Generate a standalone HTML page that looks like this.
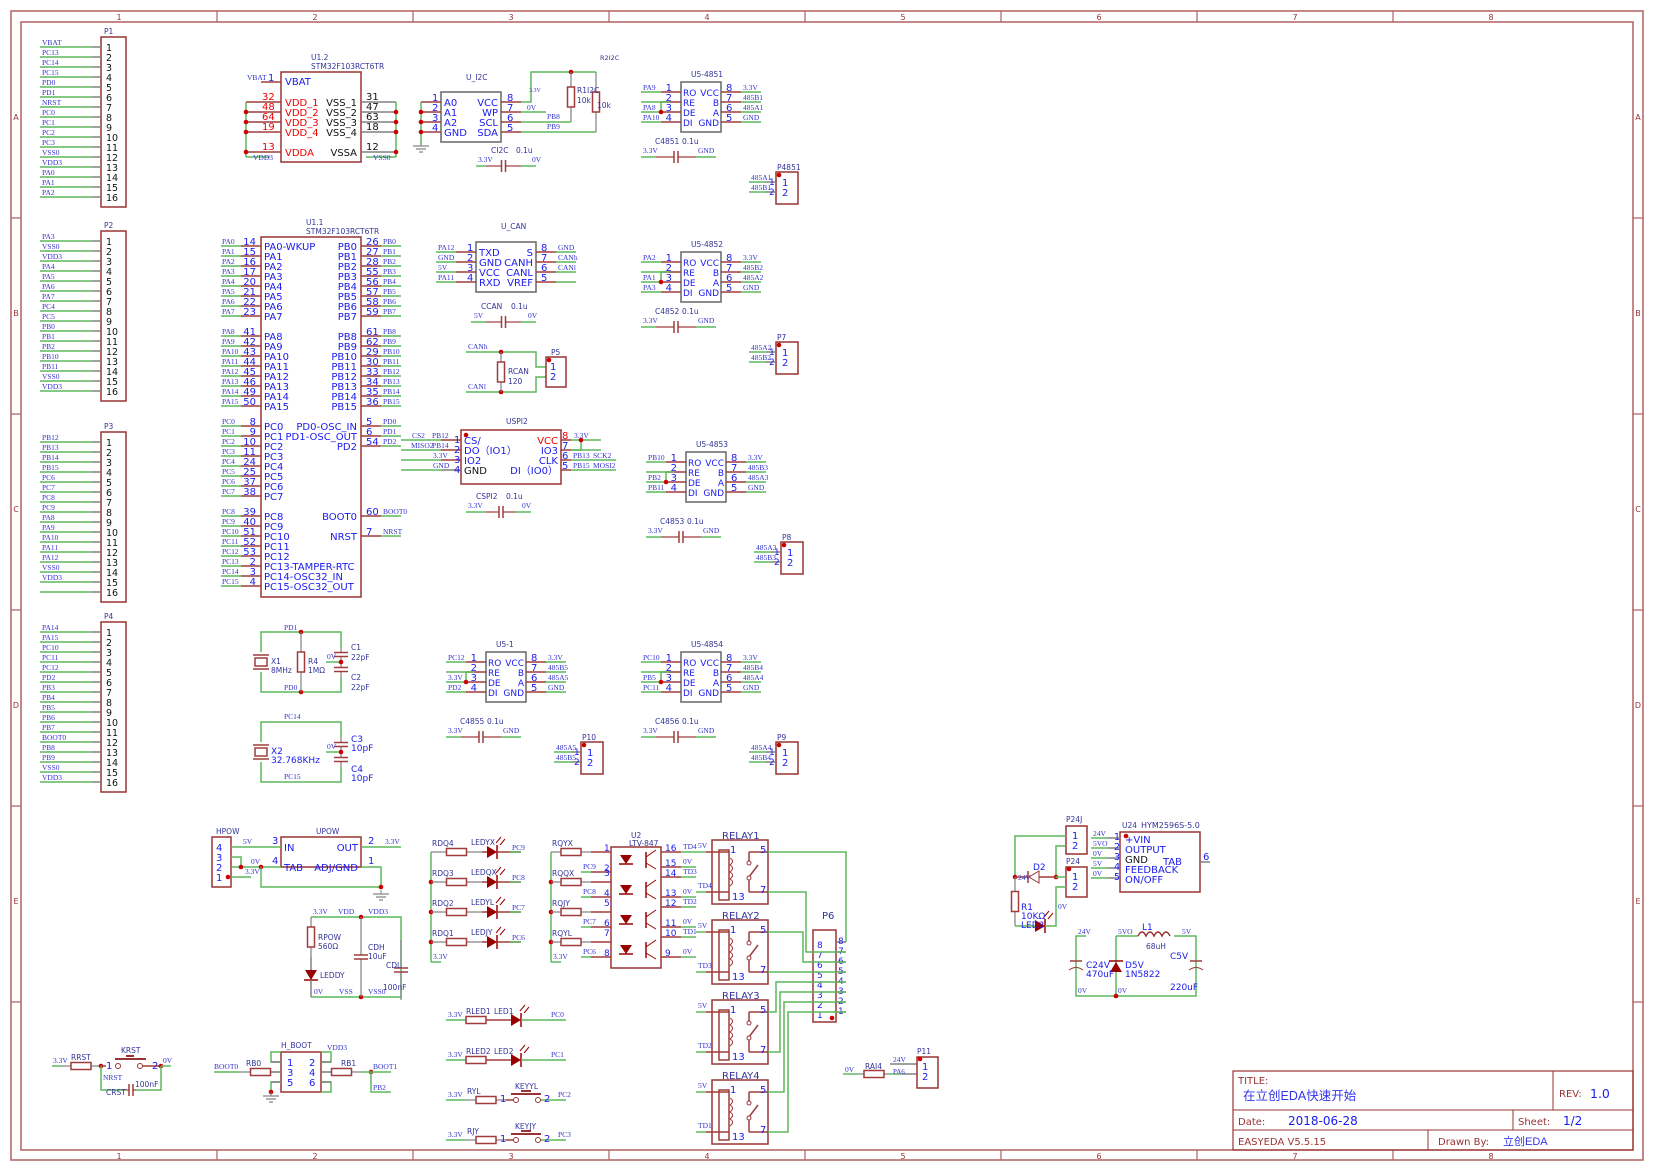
<!DOCTYPE html>
<html><head><meta charset="utf-8"><style>
html,body{margin:0;padding:0;background:#fff;}
svg{display:block;}
.s{font-family:"Liberation Serif",serif;font-size:7.5px;fill:#3333cc;}
.n{font-family:"DejaVu Sans","Liberation Sans",sans-serif;font-size:10px;fill:#1a1aee;}
.c{font-family:"DejaVu Sans","Liberation Sans",sans-serif;font-size:7.5px;fill:#333399;}
.f{font-family:"DejaVu Sans","Liberation Sans",sans-serif;font-size:9px;fill:#993333;}
</style></head><body>
<svg id="sv" width="1655" height="1172" viewBox="0 0 1655 1172" xmlns="http://www.w3.org/2000/svg">
<rect x="11" y="11" width="1632" height="1149" fill="none" stroke="#b06060" stroke-width="1.5"/>
<rect x="21" y="22" width="1612" height="1128" fill="none" stroke="#b06060" stroke-width="1.5"/>
<g id="g"></g>
<rect x="1233" y="1071" width="400" height="79" fill="none" stroke="#993333" stroke-width="1.2"/>
<line x1="1233" y1="1110" x2="1633" y2="1110" stroke="#993333"/>
<line x1="1233" y1="1130" x2="1633" y2="1130" stroke="#993333"/>
<line x1="1553" y1="1071" x2="1553" y2="1110" stroke="#993333"/>
<line x1="1513" y1="1110" x2="1513" y2="1130" stroke="#993333"/>
<line x1="1428" y1="1130" x2="1428" y2="1150" stroke="#993333"/>
<text x="1238" y="1084" class="f" style="font-size:10px">TITLE:</text>
<text x="1243" y="1100" style="font-family:'Liberation Sans','Noto Sans CJK SC',sans-serif;font-size:12.5px;fill:#3333ee">在立创EDA快速开始</text>
<text x="1559" y="1097" class="f" style="font-size:10px">REV:</text>
<text x="1590" y="1098" class="n" style="font-size:12.5px">1.0</text>
<text x="1238" y="1125" class="f" style="font-size:10px">Date:</text>
<text x="1288" y="1125" class="n" style="font-size:12px">2018-06-28</text>
<text x="1518" y="1125" class="f" style="font-size:10px">Sheet:</text>
<text x="1563" y="1125" class="n" style="font-size:12px">1/2</text>
<text x="1238" y="1145" class="f" style="font-size:10px">EASYEDA V5.5.15</text>
<text x="1438" y="1145" class="f" style="font-size:10px">Drawn By:</text>
<text x="1503" y="1145" style="font-family:'Liberation Sans','Noto Sans CJK SC',sans-serif;font-size:11px;fill:#3333ee">立创EDA</text>
</svg>
<script>
var G=document.getElementById('g'),h='';
var RED='#a03c3c',GR='#5cb85c',GY='#808080',BX='#993333';
function L(a,b,c,d,col,w){h+='<line x1="'+a+'" y1="'+b+'" x2="'+c+'" y2="'+d+'" stroke="'+(col||GR)+'" stroke-width="'+(w||1.5)+'"/>';}
function P(pts,col){h+='<polyline points="'+pts+'" fill="none" stroke="'+(col||GR)+'" stroke-width="1.5"/>';}
function T(x,y,s,cl,a,st){h+='<text x="'+x+'" y="'+y+'" class="'+cl+'"'+(a?' text-anchor="'+a+'"':'')+(st?' style="'+st+'"':'')+'>'+s+'</text>';}
function R(x,y,w,hh,col){h+='<rect x="'+x+'" y="'+y+'" width="'+w+'" height="'+hh+'" fill="none" stroke="'+(col||BX)+'" stroke-width="1.5"/>';}
function D(x,y){h+='<circle cx="'+x+'" cy="'+y+'" r="2.3" fill="#cc0000"/>';}
function res(x1,y,x2){var m=(x1+x2)/2;L(x1,y,m-10,y,GY,1.2);L(m+10,y,x2,y,GY,1.2);R(m-10,y-3.5,20,7,RED);}
function resV(x,y1,y2){var m=(y1+y2)/2;L(x,y1,x,m-10,GY,1.2);L(x,m+10,x,y2,GY,1.2);R(x-3.5,m-10,7,20,RED);}
function cap(x1,y,x2){var m=(x1+x2)/2;L(x1,y,m-2,y,RED,1.2);L(m+2,y,x2,y,RED,1.2);L(m-2,y-6,m-2,y+6,RED,1.5);L(m+2,y-6,m+2,y+6,RED,1.5);}
function capV(x,y1,y2){var m=(y1+y2)/2;L(x,y1,x,m-2,GY,1.2);L(x,m+2,x,y2,GY,1.2);L(x-7,m-2,x+7,m-2,RED,1.5);L(x-7,m+2,x+7,m+2,RED,1.5);}
function gnd(x,y){L(x,y,x,y+4,GY,1);L(x-8,y+4,x+8,y+4,GY,1.2);L(x-5,y+7,x+5,y+7,GY,1.2);L(x-2,y+10,x+2,y+10,GY,1.2);}
function led(x,y){h+='<polygon points="'+(x-5)+','+(y-6)+' '+(x-5)+','+(y+6)+' '+(x+5)+','+y+'" fill="#990000"/>';L(x+5,y-7,x+5,y+7,'#990000',1.5);L(x+4,y-9,x+9,y-15,'#990000',1);L(x+8,y-7,x+13,y-13,'#990000',1);}
var cx=[217,413,609,805,1001,1197,1393];
cx.forEach(function(x){L(x,11,x,22,'#b06060',1.2);L(x,1150,x,1160,'#b06060',1.2);});
for(var i=0;i<8;i++){var x=119+196*i;T(x,20,i+1,'f','middle','font-size:8px');T(x,1159,i+1,'f','middle','font-size:8px');}
[218,414,610,806,1002].forEach(function(y){L(11,y,21,y,'#b06060',1.2);L(1633,y,1643,y,'#b06060',1.2);});
'ABCDE'.split('').forEach(function(c,i){var y=120+196*i;T(16,y,c,'f','middle','font-size:8px');T(1638,y,c,'f','middle','font-size:8px');});
function hdr(name,y0,labs){R(101,y0,25,170);T(104,y0-3,name,'c');for(var i=0;i<16;i++){var y=y0+10+10*i;L(40,y,92,y,GR,1.5);L(92,y,101,y,GY,1.5);if(labs[i])T(42,y-2,labs[i],'s');T(106,y+4,i+1,'n','','font-size:9.5px;fill:#111');}}
hdr('P1',37,['VBAT','PC13','PC14','PC15','PD0','PD1','NRST','PC0','PC1','PC2','PC3','VSS0','VDD3','PA0','PA1','PA2']);
hdr('P2',231,['PA3','VSS0','VDD3','PA4','PA5','PA6','PA7','PC4','PC5','PB0','PB1','PB2','PB10','PB11','VSS0','VDD3']);
hdr('P3',432,['PB12','PB13','PB14','PB15','PC6','PC7','PC8','PC9','PA8','PA9','PA10','PA11','PA12','VSS0','VDD3','']);
hdr('P4',622,['PA14','PA15','PC10','PC11','PC12','PD2','PB3','PB4','PB5','PB6','PB7','BOOT0','PB8','PB9','VSS0','VDD3']);
R(281,72,80,90);T(311,60,'U1.2','c');T(311,69,'STM32F103RCT6TR','c');
L(261,82,281,82,RED);T(247,80,'VBAT','s');T(268,81,'1','n');T(285,85,'VBAT','n');
[[32,102],[48,112],[64,122],[19,132],[13,152]].forEach(function(p,i){L(246,p[1],281,p[1],RED);T(262,p[1]-2,p[0],'n','','fill:#e00');T(285,p[1]+4,['VDD_1','VDD_2','VDD_3','VDD_4','VDDA'][i],'n','','fill:#e00');});
L(246,102,246,157);[112,122,132,152].forEach(function(y){D(246,y)});L(246,157,270,157);T(253,160,'VDD3','s');
[[31,102],[47,112],[63,122],[18,132],[12,152]].forEach(function(p,i){L(361,p[1],396,p[1],GY);T(366,p[1]-2,p[0],'n','','fill:#111');T(357,p[1]+4,['VSS_1','VSS_2','VSS_3','VSS_4','VSSA'][i],'n','end','fill:#111');});
L(396,102,396,157);[112,122,132,152].forEach(function(y){D(396,y)});L(366,157,396,157);T(373,160,'VSS0','s');
R(261,237,100,360);T(306,225,'U1.1','c');T(306,234,'STM32F103RCT6TR','c');
var ln=[14,15,16,17,20,21,22,23,41,42,43,44,45,46,49,50,8,9,10,11,24,25,37,38,39,40,51,52,53,2,3,4];
var lnames=['PA0-WKUP','PA1','PA2','PA3','PA4','PA5','PA6','PA7','PA8','PA9','PA10','PA11','PA12','PA13','PA14','PA15','PC0','PC1','PC2','PC3','PC4','PC5','PC6','PC7','PC8','PC9','PC10','PC11','PC12','PC13-TAMPER-RTC','PC14-OSC32_IN','PC15-OSC32_OUT'];
var llab=['PA0','PA1','PA2','PA3','PA4','PA5','PA6','PA7','PA8','PA9','PA10','PA11','PA12','PA13','PA14','PA15','PC0','PC1','PC2','PC3','PC4','PC5','PC6','PC7','PC8','PC9','PC10','PC11','PC12','PC13','PC14','PC15'];
for(var i=0;i<32;i++){var y=246+10*i+10*Math.floor(i/8);L(221,y,241,y,GR);L(241,y,261,y,RED);T(222,y-2,llab[i],'s');T(256,y-1,ln[i],'n','end');T(264,y+4,lnames[i],'n');}
var rdat=[['PB0',26,246],['PB1',27,256],['PB2',28,266],['PB3',55,276],['PB4',56,286],['PB5',57,296],['PB6',58,306],['PB7',59,316],['PB8',61,336],['PB9',62,346],['PB10',29,356],['PB11',30,366],['PB12',33,376],['PB13',34,386],['PB14',35,396],['PB15',36,406],['PD0',5,426,'PD0-OSC_IN'],['PD1',6,436,'PD1-OSC_OUT'],['PD2',54,446],['BOOT0',60,516],['NRST',7,536]];
rdat.forEach(function(r){var y=r[2];L(361,y,381,y,RED);L(381,y,401,y,GR);T(366,y-1,r[1],'n');T(383,y-2,r[0],'s');T(357,y+4,r[3]||r[0],'n','end');});
R(441,92,60,50,'#666');T(466,80,'U_I2C','c');
['A0','A1','A2','GND'].forEach(function(s,i){var y=102+10*i;L(421,y,441,y,RED);T(432,y-1,i+1,'n');T(444,y+4,s,'n');});
L(421,102,421,145);[112,122,132].forEach(function(y){D(421,y)});gnd(421,142);
['VCC','WP','SCL','SDA'].forEach(function(s,i){var y=102+10*i;L(501,y,521,y,RED);T(507,y-1,8-i,'n');T(498,y+4,s,'n','end');});
P('521,102 531,102 531,72 596,72');D(571,72);resV(571,72,122);resV(596,72,132);
P('521,112 546,112');P('521,122 571,122');P('521,132 596,132');
T(547,119,'PB8','s');T(547,129,'PB9','s');T(527,110,'0V','s');T(529,92,'3.3V','s','','font-size:6px');
T(577,93,'R1I2C','c');T(577,103,'10k','c');T(597,108,'10k','c');T(600,60,'R2I2C','c','','font-size:6.5px');
L(476,166,486,166);cap(486,166,521);L(521,166,536,166);T(478,162,'3.3V','s');T(532,162,'0V','s');T(491,153,'CI2C','c');T(516,153,'0.1u','c');
R(476,242,60,50,'#666');T(501,229,'U_CAN','c');
['TXD','GND','VCC','RXD'].forEach(function(s,i){var y=252+10*i;L(436,y,456,y,GR);L(456,y,476,y,RED);T(438,y-2,['PA12','GND','5V','PA11'][i],'s');T(467,y-1,i+1,'n');T(479,y+4,s,'n');});
['S','CANH','CANL','VREF'].forEach(function(s,i){var y=252+10*i;L(536,y,556,y,RED);L(556,y,576,y,GR);T(541,y-1,8-i,'n');T(533,y+4,s,'n','end');T(558,y-2,['GND','CANh','CANl',''][i],'s');});
L(471,322,486,322);cap(486,322,521);L(521,322,536,322);T(474,318,'5V','s');T(528,318,'0V','s');T(481,309,'CCAN','c');T(511,309,'0.1u','c');
P('466,352 536,352 536,367 546,367');P('466,392 536,392 536,377 546,377');D(501,352);D(501,392);resV(501,352,392);
T(468,349,'CANh','s');T(468,389,'CANl','s');T(508,374,'RCAN','c');T(508,384,'120','c');
R(546,357,20,30);D(549,360);T(551,355,'P5','c');T(550,370,'1','n');T(550,380,'2','n');
R(461,430,100,54);T(506,424,'USPI2','c');D(466,435);
['CS/','DO（IO1）','IO2','GND'].forEach(function(s,i){var y=440+10*i;L(401,y,441,y,GR);L(441,y,461,y,i==3?GY:RED);T(464,y+4,s,'n','','fill:'+(i==3?'#111':'#1a1aee'));T(454,y+3,i+1,'n');});
T(412,438,'CS2','s');T(432,438,'PB12','s');T(411,448,'MISO2','s');T(432,448,'PB14','s');T(433,458,'3.3V','s');T(433,468,'GND','s');
['VCC','IO3','CLK','DI（IO0）'].forEach(function(s,i){var y=440+10*i;L(561,y,571,y,RED);L(571,y,601+(i>1?15:0),y,GR);T(558,y+4,s,'n','end',i==0?'fill:#e00':'');T(562,y-1,8-i,'n','',i==0?'fill:#e00':'');});
P('581,440 581,450 571,450');D(581,440);T(574,438,'3.3V','s');T(573,458,'PB13','s');T(593,458,'SCK2','s');T(573,468,'PB15','s');T(593,468,'MOSI2','s');
L(466,512,486,512);cap(486,512,516);L(516,512,531,512);T(468,508,'3.3V','s');T(522,508,'0V','s');T(476,499,'CSPI2','c');T(506,499,'0.1u','c');
function rs(x,y,name,ll,rl){R(x,y,40,50,'#666');T(x+10,y-5,name,'c');var ln2=['RO','RE','DE','DI'],rn=['VCC','B','A','GND'];
for(var i=0;i<4;i++){var yy=y+10+10*i;L(x-40,yy,x-20,yy,GR);L(x-20,yy,x,yy,RED);L(x+40,yy,x+60,yy,RED);L(x+60,yy,x+80,yy,GR);T(x-9,yy-1,i+1,'n','end');T(x+2,yy+4,ln2[i],'n','','font-size:9px');T(x+38,yy+4,rn[i],'n','end','font-size:9px');T(x+45,yy-1,8-i,'n');if(ll[i])T(x-38,yy-2,ll[i],'s');T(x+62,yy-2,rl[i],'s');}
P((x-20)+','+(y+30)+' '+(x-20)+','+(y+20)+' '+(x-12)+','+(y+20));D(x-20,y+30);}
rs(681,82,'U5-4851',['PA9','','PA8','PA10'],['3.3V','485B1','485A1','GND']);
rs(681,252,'U5-4852',['PA2','','PA1','PA3'],['3.3V','485B2','485A2','GND']);
rs(686,452,'U5-4853',['PB10','','PB2','PB11'],['3.3V','485B3','485A3','GND']);
rs(486,652,'U5-1',['PC12','','3.3V','PD2'],['3.3V','485B5','485A5','GND']);
rs(681,652,'U5-4854',['PC10','','PB5','PC11'],['3.3V','485B4','485A4','GND']);
function c4(x,y,name,a,b){L(x,y,x+15,y);cap(x+15,y,x+55);L(x+55,y,x+75,y);T(x+2,y-4,a,'s');T(x+57,y-4,b,'s');T(x+14,y-13,name,'c');T(x+41,y-13,'0.1u','c');}
c4(641,157,'C4851','3.3V','GND');c4(641,327,'C4852','3.3V','GND');c4(646,537,'C4853','3.3V','GND');c4(446,737,'C4855','3.3V','GND');c4(641,737,'C4856','3.3V','GND');
function p2(x,y,name,a,b){R(x,y,22,32);D(x+3,y+3);T(x+1,y-2,name,'c');T(x+6,y+14,'1','n');T(x+6,y+24,'2','n');L(x-27,y+10,x-10,y+10);L(x-10,y+10,x,y+10,GY);L(x-27,y+20,x-10,y+20);L(x-10,y+20,x,y+20,GY);T(x-25,y+8,a,'s');T(x-25,y+18,b,'s');T(x-7,y+13,'1','n','','font-size:9px');T(x-7,y+23,'2','n','','font-size:9px');}
p2(776,172,'P4851','485A1','485B1');p2(776,342,'P7','485A2','485B2');p2(781,542,'P8','485A3','485B3');p2(581,742,'P10','485A5','485B5');p2(776,742,'P9','485A4','485B4');
P('261,652 261,632 341,632 341,647');P('261,672 261,692 341,692 341,677');D(301,632);D(301,692);resV(301,632,692);
R(255,658,12,8,RED);L(253,655,269,655,RED);L(253,669,269,669,RED);
capV(341,647,662);capV(341,662,677);P('326,662 341,662');D(341,662);
T(284,630,'PD1','s');T(284,690,'PD0','s');T(271,664,'X1','c');T(271,673,'8MHz','c');T(308,664,'R4','c');T(308,673,'1MΩ','c');T(327,659,'0V','s');T(351,650,'C1','c');T(351,660,'22pF','c');T(351,680,'C2','c');T(351,690,'22pF','c');
P('261,742 261,722 341,722 341,737');P('261,762 261,782 341,782 341,767');capV(341,737,752);capV(341,752,767);P('326,752 341,752');D(341,752);
R(255,748,12,8,RED);L(253,745,269,745,RED);L(253,759,269,759,RED);
T(284,719,'PC14','s');T(284,779,'PC15','s');T(271,754,'X2','n','','font-size:9px');T(271,763,'32.768KHz','n','','font-size:9px');T(327,749,'0V','s');T(351,742,'C3','n','','font-size:9px');T(351,751,'10pF','n','','font-size:9px');T(351,772,'C4','n','','font-size:9px');T(351,781,'10pF','n','','font-size:9px');
R(212,837,19,50);T(216,834,'HPOW','c');D(228,877);['4','3','2','1'].forEach(function(s,i){T(216,851+10*i,s,'n');});
R(281,837,80,30);T(316,834,'UPOW','c');
P('231,847 281,847');T(243,844,'5V','s');T(272,844,'3','n');T(284,851,'IN','n');
P('231,857 241,857 241,867 281,867');P('231,867 241,867');P('231,877 251,877');D(241,867);D(261,867);P('261,867 261,887 381,887');T(251,864,'0V','s');T(245,874,'3.3V','s');T(272,864,'4','n');T(284,871,'TAB','n');
P('361,847 401,847');T(368,844,'2','n');T(385,844,'3.3V','s');T(358,851,'OUT','n','end');T(358,871,'ADJ/GND','n','end');
P('361,867 381,867 381,887');D(381,887);gnd(381,890);T(368,864,'1','n');
function led2v(x,y){h+='<polygon points="'+(x-6)+','+(y-5)+' '+(x+6)+','+(y-5)+' '+x+','+(y+5)+'" fill="#990000"/>';L(x-7,y+5,x+7,y+5,'#990000',1.5);}
P('311,917 401,917 401,997 311,997');resV(311,917,957);led2v(311,975);
L(311,957,311,970,GY);L(311,980,311,997,GY);D(361,917);D(361,997);capV(361,917,997);capV(401,940,1000);
T(313,914,'3.3V','s');T(338,914,'VDD','s');T(368,914,'VDD3','s');T(318,940,'RPOW','c');T(318,949,'560Ω','c');T(368,950,'CDH','c');T(368,959,'10uF','c');T(386,968,'CDL','c');T(383,990,'100nF','c');T(320,978,'LEDDY','c');T(314,994,'0V','s');T(339,994,'VSS','s');T(368,994,'VSS0','s');
L(431,852,431,962);L(431,962,441,962);T(433,959,'3.3V','s');
['RDQ4','RDQ3','RDQ2','RDQ1'].forEach(function(s,i){var y=852+30*i;if(i)D(431,y);res(431,y,482);L(482,y,487,y,RED);led(492,y);L(497,y,521,y,RED);L(510,y,521,y,GR);T(432,y-6,s,'c');T(471,y-7,['LEDYX','LEDQX','LEDYL','LEDJY'][i],'c');T(512,y-2,['PC9','PC8','PC7','PC6'][i],'s');});
L(551,852,551,962);L(551,962,561,962);T(553,959,'3.3V','s');R(611,847,50,121);T(631,838,'U2','c');T(629,846,'LTV-847','c');
var lp=[[1,852],[2,872],[3,877],[4,897],[5,907],[6,927],[7,937],[8,957]];
['RQYX','RQQX','RQJY','RQYL'].forEach(function(s,i){var y=852+30*i;if(i)D(551,y);res(551,y,591);L(591,y,611,y,RED);T(552,y-6,s,'c');});
[[2,872,'PC9'],[4,897,'PC8'],[6,927,'PC7'],[8,957,'PC6']].forEach(function(p){L(581,p[1],591,p[1]);L(591,p[1],611,p[1],RED);T(583,p[1]-3,p[2],'s');});
lp.forEach(function(p){T(604,p[1]-1,p[0],'n','','font-size:9px');});
var rp=[[16,852,'TD4'],[15,867,'0V'],[14,877,'TD3'],[13,897,'0V'],[12,907,'TD2'],[11,927,'0V'],[10,937,'TD1'],[9,957,'0V']];
rp.forEach(function(p){L(661,p[1],681,p[1],RED);L(681,p[1],696,p[1]);T(665,p[1]-1,p[0],'n','','font-size:9px');T(683,p[1]-3,p[2],'s');});
for(var i=0;i<4;i++){var y=860+30*i;h+='<polygon points="620,'+(y-5)+' 632,'+(y-5)+' 626,'+(y+4)+'" fill="#990000"/>';L(619,y+4,633,y+4,'#990000');L(646,y-8,646,y+8,'#990000');L(646,y-3,656,y-10,'#990000',1);L(646,y+3,656,y+9,'#990000',1);}
function relay(y,n,tdl,tdlb){R(712,y,56,64);T(722,y-1,'RELAY'+n,'n','','fill:#333399');R(719,y+10,10,50,RED);L(706,y+12,729,y+12,RED);L(706,y+52,729,y+52,RED);
h+='<path d="M730,'+(y+18)+' q5,3 0,7 q5,3 0,7 q5,3 0,7 q5,3 0,7" fill="none" stroke="#993333"/>';
L(749,y+12,768,y+12,RED);L(749,y+12,749,y+22,RED);L(749,y+38,749,y+52,RED);L(749,y+52,768,y+52,RED);L(749,y+37,758,y+25,RED);h+='<circle cx="749" cy="'+(y+23)+'" r="2" fill="#fff" stroke="#993333"/><circle cx="749" cy="'+(y+38)+'" r="2" fill="#fff" stroke="#993333"/>';
T(730,y+13,'1','n');T(760,y+13,'5','n');T(760,y+53,'7','n');T(732,y+60,'13','n');L(696,y+12,706,y+12);L(696,y+52,706,y+52);T(698,y+8,tdl,'s');T(698,y+48,tdlb,'s');}
relay(840,1,'5V','TD4');relay(920,2,'5V','TD3');relay(1000,3,'5V','TD2');relay(1080,4,'5V','TD1');
R(813,930,23,92);T(822,919,'P6','n','','fill:#333399');D(832,1018);
for(var i=0;i<8;i++){var y=942+10*i;L(836,y,846,y,GY);T(838,y+2,8-i,'n','','font-size:9px');T(817,y+6,8-i,'n','','font-size:9px');}
P('768,852 846,852 846,942');P('768,892 806,892 806,952 846,952');P('768,932 803,932 803,962 846,962');P('768,972 846,972');
P('768,1012 776,1012 776,982 846,982');P('768,1052 780,1052 780,992 846,992');P('768,1092 784,1092 784,1002 846,1002');P('768,1132 788,1132 788,1012 846,1012');
[['RLED1','LED1','PC0',1020],['RLED2','LED2','PC1',1060]].forEach(function(a){var y=a[3];L(446,y,466,y);res(466,y,486);L(486,y,511,y,RED);led(516,y);L(521,y,566,y);T(448,y-3,'3.3V','s');T(466,y-6,a[0],'c');T(494,y-6,a[1],'c');T(551,y-3,a[2],'s');});
[['RYL','KEYYL','PC2',1100],['RJY','KEYJY','PC3',1140]].forEach(function(a){var y=a[3];L(446,y,466,y);res(466,y,506);L(506,y,514,y,RED);h+='<circle cx="516" cy="'+y+'" r="2.5" fill="#fff" stroke="#993333"/><circle cx="538" cy="'+y+'" r="2.5" fill="#fff" stroke="#993333"/>';L(511,y-6,541,y-6,'#993333',2);L(521,y-9,531,y-9,'#993333',2);L(541,y,566,y);T(448,y-3,'3.3V','s');T(467,y-6,a[0],'c');T(515,y-11,a[1],'c');T(500,y+2,'1','n');T(544,y+2,'2','n');T(558,y-3,a[2],'s');});
R(1066,826,21,28);T(1066,822,'P24J','c');T(1072,839,'1','n');T(1072,849,'2','n');
R(1066,867,21,30);D(1069,869);T(1066,864,'P24','c');T(1072,880,'1','n');T(1072,890,'2','n');
P('1066,836 1015,836 1015,877');P('1066,846 1056,846 1056,877');D(1015,877);D(1056,877);P('1056,877 1066,877');
L(1015,877,1027,877,RED);h+='<polygon points="1039,871 1039,883 1029,877" fill="none" stroke="#993333"/>';L(1028,871,1028,883,RED);L(1039,877,1056,877,RED);
resV(1015,877,926);P('1015,926 1037,926');led(1040,926);P('1045,926 1056,926 1056,887 1066,887');
T(1018,880,'24V','s');T(1033,870,'D2','n','','font-size:9px');T(1021,910,'R1','n','','font-size:9px');T(1021,919,'10KΩ','n','','font-size:9px');T(1021,928,'LED3','n','','font-size:9px');T(1058,909,'0V','s');
R(1120,832,80,60);D(1126,836);T(1122,828,'U24','c');T(1141,828,'HYM2596S-5.0','c','','font-size:8px');
['+VIN','OUTPUT','GND','FEEDBACK','ON/OFF'].forEach(function(s,i){var y=838+10*i;L(1091,y,1108,y);L(1108,y,1120,y,GY);T(1093,y-2,['24V','5VO','0V','5V','0V'][i],'s');T(1114,y+2,i+1,'n','','font-size:9.5px');T(1125,y+5,s,'n','',i==2?'fill:#111':'');});
T(1182,865,'TAB','n','end');L(1200,862,1210,862,GY);T(1203,860,'6','n');
P('1086,936 1076,936 1076,996 1196,996 1196,936 1174,936');P('1116,936 1116,996');P('1116,936 1138,936');D(1116,996);
h+='<path d="M1138,936 q4,-8 8,0 q4,-8 8,0 q4,-8 8,0 q4,-8 8,0" fill="none" stroke="#993333" stroke-width="1.5"/>';
h+='<polygon points="1110,972 1122,972 1116,962" fill="#990000"/>';L(1109,961,1123,961,'#990000',1.5);
L(1070,961,1082,961,RED);h+='<path d="M1069,970 q7,-5 14,0" fill="none" stroke="#993333"/><path d="M1189,970 q7,-5 14,0" fill="none" stroke="#993333"/>';L(1190,961,1202,961,RED);
T(1078,934,'24V','s');T(1118,934,'5VO','s');T(1182,934,'5V','s');T(1078,993,'0V','s');T(1118,993,'0V','s');T(1142,930,'L1','n','','font-size:9px');T(1146,949,'68uH','c');T(1086,968,'C24V','n','','font-size:9px');T(1086,977,'470uF','n','','font-size:9px');T(1125,968,'D5V','n','','font-size:9px');T(1125,977,'1N5822','n','','font-size:9px');T(1170,959,'C5V','n','','font-size:9px');T(1170,990,'220uF','n','','font-size:9px');
L(843,1074,858,1074);res(858,1074,890);L(890,1074,902,1074);L(902,1074,917,1074,GY);L(890,1064,917,1064,GY);R(917,1057,21,31);D(920,1059);T(917,1054,'P11','c');T(922,1070,'1','n');T(922,1080,'2','n');T(845,1072,'0V','s');T(865,1069,'RAI4','c');T(893,1062,'24V','s');T(893,1074,'PA6','s','','font-size:7px');
L(52,1066,62,1066);res(62,1066,100);D(101,1066);L(101,1066,106,1066,RED);h+='<circle cx="118" cy="1066" r="2.5" fill="#fff" stroke="#993333"/><circle cx="140" cy="1066" r="2.5" fill="#fff" stroke="#993333"/>';L(115,1059,146,1059,'#993333',2);L(126,1056,134,1056,'#993333',2);L(143,1066,161,1066,RED);D(161,1066);L(161,1066,171,1066);
P('101,1066 101,1090 126,1090');P('136,1090 161,1090 161,1066');cap(126,1090,136);T(53,1063,'3.3V','s');T(71,1060,'RRST','c');T(121,1053,'KRST','c');T(106,1069,'1','n');T(152,1069,'2','n');T(163,1063,'0V','s');T(103,1080,'NRST','s');T(106,1095,'CRST','c');T(135,1087,'100nF','c');
R(281,1052,40,40);T(281,1048,'H_BOOT','c');P('281,1062 271,1062 271,1052 281,1052');P('321,1062 331,1062 331,1052 321,1052');
P('281,1082 271,1082 271,1092');D(271,1092);gnd(271,1092);P('321,1082 331,1082 331,1092 321,1092');
[['1',1062],['3',1072],['5',1082]].forEach(function(p){L(271,p[1],281,p[1],GY);T(287,p[1]+4,p[0],'n');});
[['2',1062],['4',1072],['6',1082]].forEach(function(p){L(321,p[1],331,p[1],GY);T(309,p[1]+4,p[0],'n');});
L(214,1072,240,1072);res(240,1072,281);res(321,1072,362);D(371,1072);L(362,1072,391,1072);P('371,1072 371,1092 391,1092');
T(214,1069,'BOOT0','s');T(246,1066,'RB0','c');T(341,1066,'RB1','c');T(373,1069,'BOOT1','s');T(373,1090,'PB2','s');T(327,1050,'VDD3','s');
G.innerHTML=h;
</script>
</body></html>
